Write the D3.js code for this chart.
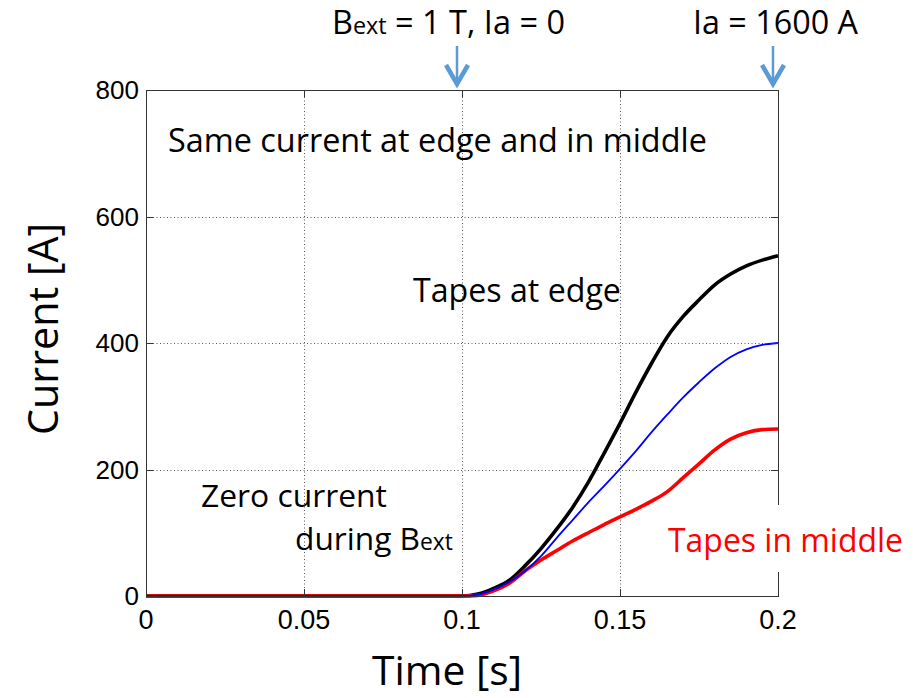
<!DOCTYPE html>
<html>
<head>
<meta charset="utf-8">
<script src="https://cdn.jsdelivr.net/npm/d3@7/dist/d3.min.js"></script>
<style>
  body { margin: 0; background: #fff; }
  svg { display: block; }
</style>
</head>
<body>
<svg id="chart"></svg>
<script>
const width = 913;
const height = 698;

// time in seconds, currents in A
const timeS = [0, 0.1, 0.105, 0.11, 0.115, 0.12, 0.125, 0.13, 0.135, 0.14, 0.145,
  0.15, 0.155, 0.16, 0.165, 0.17, 0.175, 0.18, 0.185, 0.19, 0.195, 0.2];
const edgeCurrent = [0, 0, 3, 12, 25, 48, 75, 106, 140, 180, 226,
  273, 322, 368, 410, 442, 468, 492, 509, 522, 531, 538];
const meanCurrent = [0, 0, 2, 10, 22, 40, 63, 92, 120, 148, 174,
  201, 229, 259, 287, 314, 338, 360, 378, 390, 397, 400];
const middleCurrent = [0, 0, 1, 8, 20, 40, 57, 72, 87, 100, 113,
  125, 137, 150, 165, 187, 209, 231, 248, 258, 263, 264];

const xTicks = [0, 0.05, 0.1, 0.15, 0.2];
const xTickLabels = ['0', '0.05', '0.1', '0.15', '0.2'];
const yTicks = [0, 200, 400, 600, 800];
const yTickLabels = ['0', '200', '400', '600', '800'];
const arrowTimes = [0.1, 0.2];

const svg = d3.select('#chart').attr('width', width).attr('height', height);

const x = d3.scaleLinear().domain([0, 0.2]).range([146, 778]);
const y = d3.scaleLinear().domain([0, 800]).range([596, 90]);

const textFont = '"Open Sans", "DejaVu Sans", sans-serif';
const tickFont = '"Liberation Sans", Arial, sans-serif';

// scale the font so the text spans the width seen in the picture
function fitWidth(sel, w) {
  const cur = sel.node().getComputedTextLength();
  const fs = parseFloat(sel.attr('font-size'));
  sel.attr('font-size', (fs * w / cur).toFixed(2));
  return sel;
}

// grid
const grid = svg.append('g').attr('stroke', '#555').attr('stroke-width', 1)
  .attr('stroke-dasharray', '1,2.5');
grid.selectAll('.vgrid').data(xTicks.slice(1, -1)).enter().append('line')
  .attr('x1', d => Math.round(x(d)) + 0.5).attr('x2', d => Math.round(x(d)) + 0.5)
  .attr('y1', y(800)).attr('y2', y(0));
grid.selectAll('.hgrid').data(yTicks.slice(1, -1)).enter().append('line')
  .attr('y1', d => Math.round(y(d)) + 0.5).attr('y2', d => Math.round(y(d)) + 0.5)
  .attr('x1', x(0)).attr('x2', x(0.2));

// curves
const line = (vals) => d3.line()
  .x((d, i) => x(timeS[i]))
  .y(d => y(d))
  .curve(d3.curveMonotoneX)(vals);

svg.append('path').attr('d', line(edgeCurrent))
  .attr('fill', 'none').attr('stroke', '#000').attr('stroke-width', 3.6);
svg.append('path').attr('d', line(middleCurrent))
  .attr('fill', 'none').attr('stroke', '#f00').attr('stroke-width', 3.6);
svg.append('path').attr('d', line(meanCurrent))
  .attr('fill', 'none').attr('stroke', '#00f').attr('stroke-width', 1.8);

// box and ticks (MATLAB style, inward on all sides)
svg.append('rect')
  .attr('x', x(0) + 0.5).attr('y', y(800) + 0.5)
  .attr('width', x(0.2) - x(0)).attr('height', y(0) - y(800))
  .attr('fill', 'none').attr('stroke', '#333').attr('stroke-width', 1);

const ticks = svg.append('g').attr('stroke', '#333').attr('stroke-width', 1);
xTicks.forEach(t => {
  const px = Math.round(x(t)) + 0.5;
  ticks.append('line').attr('x1', px).attr('x2', px).attr('y1', y(0)).attr('y2', y(0) - 7);
  ticks.append('line').attr('x1', px).attr('x2', px).attr('y1', y(800)).attr('y2', y(800) + 7);
});
yTicks.forEach(v => {
  const py = Math.round(y(v)) + 0.5;
  ticks.append('line').attr('y1', py).attr('y2', py).attr('x1', x(0)).attr('x2', x(0) + 7);
  ticks.append('line').attr('y1', py).attr('y2', py).attr('x1', x(0.2)).attr('x2', x(0.2) - 7);
});

svg.append('g').selectAll('text').data(xTicks).enter().append('text')
  .attr('x', d => x(d)).attr('y', 629)
  .attr('text-anchor', 'middle')
  .attr('font-family', tickFont).attr('font-size', 27)
  .text((d, i) => xTickLabels[i]);

svg.append('g').selectAll('text').data(yTicks).enter().append('text')
  .attr('x', 139).attr('y', d => y(d)).attr('dy', '0.36em')
  .attr('text-anchor', 'end')
  .attr('font-family', tickFont).attr('font-size', 26)
  .text((d, i) => yTickLabels[i]);

// axis titles
fitWidth(svg.append('text')
  .attr('transform', 'translate(58,329) rotate(-90)')
  .attr('text-anchor', 'middle')
  .attr('font-family', textFont).attr('font-size', 40)
  .text('Current [A]'), 212);

fitWidth(svg.append('text')
  .attr('x', 372).attr('y', 685)
  .attr('font-family', textFont).attr('font-size', 36)
  .text('Time [s]'), 150);

// annotations
function note(tx, ty, w, str, color) {
  return fitWidth(svg.append('text')
    .attr('x', tx).attr('y', ty)
    .attr('font-family', textFont).attr('font-size', 28)
    .attr('fill', color || '#000')
    .text(str), w);
}

function noteB(tx, ty, w, before, after) {
  const t = svg.append('text')
    .attr('x', tx).attr('y', ty)
    .attr('font-family', textFont).attr('font-size', 28);
  t.append('tspan').text(before + 'B');
  t.append('tspan').attr('font-size', '0.72em').text('ext');
  if (after) t.append('tspan').text(after);
  return fitWidth(t, w);
}

noteB(332, 34, 233, '', ' = 1 T, Ia = 0');
note(693, 34, 165, 'Ia = 1600 A');
note(168, 152, 539, 'Same current at edge and in middle');
note(413, 302, 208, 'Tapes at edge');
note(201, 507, 186, 'Zero current');
noteB(295, 550, 158, 'during ', '');

svg.append('rect').attr('x', 660).attr('y', 505).attr('width', 253).attr('height', 67)
  .attr('fill', '#fff');
note(668, 552, 235, 'Tapes in middle', '#f00');

// arrows
const arrows = svg.append('g').attr('stroke', '#5b9bd5').attr('fill', 'none');
arrowTimes.forEach(t => {
  const ax = x(t) - 5;
  arrows.append('line').attr('x1', ax).attr('x2', ax).attr('y1', 46).attr('y2', 84)
    .attr('stroke-width', 2.5);
  arrows.append('path')
    .attr('d', `M${ax - 11},65 L${ax},84 L${ax + 11},65`)
    .attr('stroke-width', 4.5).attr('stroke-linejoin', 'miter');
});
</script>
</body>
</html>
